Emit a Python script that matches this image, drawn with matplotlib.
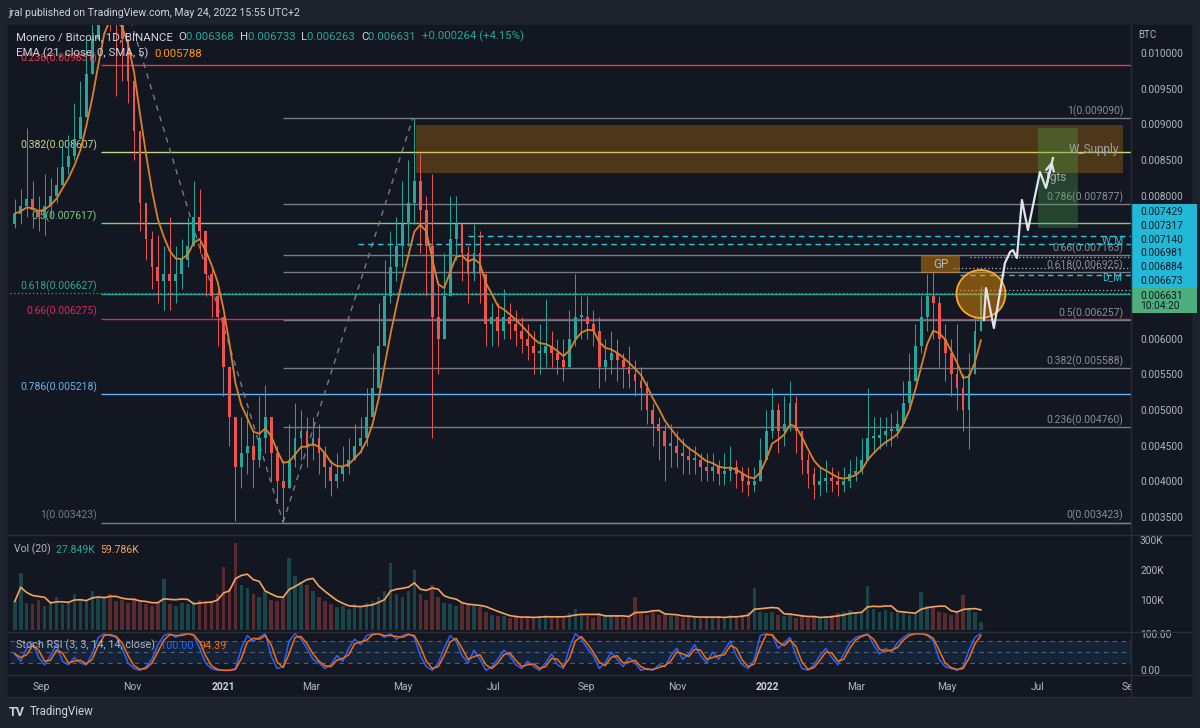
import matplotlib
matplotlib.use("Agg")
import matplotlib.pyplot as plt
import matplotlib.dates as mdates
from matplotlib.patches import Rectangle, Ellipse
import numpy as np
import pandas as pd

plt.rcParams["font.family"] = ["Roboto", "DejaVu Sans"]

W, H = 1200, 728
BG = "#131722"
FRAME = "#1e222d"
SEP = "#2a2e39"
TXT = "#b2b5be"
UP, DN = "#26a69a", "#ef5350"

close_k = [7.75, 7.85, 7.95, 7.80, 7.70, 7.85, 8.00, 8.15, 8.40, 8.55,
           8.80, 9.10, 9.70, 10.2, 10.8, 11.2, 10.9, 10.4, 10.2, 9.6,
           8.9, 7.9, 7.4, 7.0, 6.8, 6.9, 6.8, 6.9, 7.1, 7.3,
           7.7, 7.5, 6.9, 6.6, 6.3, 5.6, 4.9, 4.2, 4.4, 4.5,
           4.3, 4.6, 4.9, 4.4, 4.0, 3.9, 4.3, 4.6, 4.7, 4.5,
           4.6, 4.4, 4.2, 4.0, 4.1, 4.2, 4.3, 4.5, 4.6, 4.9,
           5.3, 5.9, 6.6, 7.0, 7.3, 7.6, 7.9, 8.2, 7.8, 7.3,
           6.3, 6.0, 6.6, 7.4, 7.6, 7.2, 6.9, 7.2, 6.9, 6.2,
           6.3, 6.1, 6.3, 6.2, 6.1, 6.0, 5.9, 5.8, 5.8, 5.9,
           5.8, 5.7, 5.6, 6.0, 6.3, 6.3, 6.2, 6.1, 5.6, 5.7,
           5.8, 5.7, 5.6, 5.5, 5.4, 5.3, 5.0, 4.8, 4.7, 4.5,
           4.5, 4.4, 4.35, 4.3, 4.3, 4.2, 4.15, 4.2, 4.1, 4.15,
           4.2, 4.1, 4.0, 3.95, 4.0, 4.3, 4.7, 5.0, 4.7, 4.8,
           5.1, 4.7, 4.3, 4.1, 3.95, 4.0, 4.05, 4.0, 3.95, 4.0,
           4.1, 4.15, 4.3, 4.6, 4.6, 4.65, 4.7, 4.7, 4.8, 5.1,
           5.4, 5.9, 6.3, 6.6, 6.5, 6.0, 5.8, 5.5, 5.3, 5.0,
           5.5, 6.1, 6.631]
high_k = [7.95, 8.10, 8.95, 8.20, 8.00, 8.30, 8.25, 8.40, 8.70, 8.85,
          9.30, 9.60, 10.2, 10.8, 11.4, 11.8, 11.6, 11.0, 10.6, 10.2,
          9.5, 8.5, 7.9, 7.5, 7.45, 7.3, 7.7, 7.3, 7.4, 7.7,
          8.2, 8.1, 7.5, 7.0, 6.7, 6.3, 5.6, 4.9, 4.9, 5.0,
          4.7, 5.2, 5.35, 4.9, 4.5, 4.3, 4.8, 5.1, 5.0, 4.9,
          4.9, 4.8, 4.5, 4.3, 4.4, 4.5, 4.6, 4.8, 4.9, 5.3,
          5.8, 6.5, 7.1, 7.5, 7.7, 8.2, 8.5, 9.09, 8.6, 8.0,
          8.3, 6.8, 7.2, 8.0, 8.0, 7.6, 7.3, 7.6, 7.5, 6.9,
          6.5, 6.5, 6.7, 6.5, 6.4, 6.3, 6.2, 6.1, 6.2, 6.55,
          6.1, 6.0, 6.0, 6.4, 6.9, 6.6, 6.6, 6.4, 6.3, 6.0,
          6.1, 6.0, 5.8, 5.9, 5.7, 5.6, 5.4, 5.1, 4.9, 4.8,
          4.8, 4.7, 4.6, 4.5, 4.5, 4.4, 4.4, 4.4, 4.3, 4.4,
          4.5, 4.3, 4.2, 4.2, 4.2, 4.6, 5.0, 5.3, 5.1, 5.2,
          5.4, 5.2, 4.7, 4.4, 4.2, 4.2, 4.3, 4.2, 4.15, 4.2,
          4.3, 4.35, 4.6, 5.3, 4.9, 4.9, 4.9, 4.95, 5.0, 5.4,
          5.8, 6.2, 6.6, 6.9, 6.93, 6.6, 6.2, 6.0, 6.2, 5.5,
          5.8, 6.3, 6.733]
low_k = [7.55, 7.60, 7.70, 7.55, 7.50, 7.45, 7.70, 7.90, 8.15, 8.30,
         8.50, 8.80, 9.20, 9.70, 10.2, 10.6, 10.3, 9.4, 9.6, 9.3,
         8.5, 7.5, 7.1, 6.7, 6.5, 6.4, 6.4, 6.5, 6.7, 7.0,
         7.3, 7.2, 6.6, 6.3, 5.9, 5.2, 4.5, 3.45, 3.9, 4.1,
         3.9, 4.2, 4.4, 4.0, 3.7, 3.45, 3.9, 4.2, 4.3, 4.2,
         4.3, 4.1, 3.9, 3.8, 3.9, 4.0, 4.1, 4.3, 4.4, 4.5,
         4.9, 5.4, 6.0, 6.5, 6.8, 7.0, 7.3, 7.6, 7.2, 6.6,
         4.6, 5.5, 6.0, 6.8, 7.1, 6.8, 6.5, 6.8, 6.5, 5.9,
         5.9, 5.9, 6.0, 6.0, 5.9, 5.8, 5.7, 5.5, 5.5, 5.6,
         5.6, 5.5, 5.4, 5.7, 5.9, 6.0, 6.0, 5.9, 5.3, 5.4,
         5.5, 5.4, 5.3, 5.3, 5.2, 5.0, 4.8, 4.5, 4.3, 4.0,
         4.2, 4.2, 4.1, 4.1, 4.1, 4.0, 4.0, 4.0, 3.95, 3.95,
         4.0, 3.9, 3.85, 3.8, 3.85, 4.0, 4.3, 4.6, 4.4, 4.5,
         4.7, 4.4, 4.1, 3.9, 3.75, 3.8, 3.85, 3.85, 3.8, 3.85,
         3.9, 4.0, 4.1, 4.3, 4.4, 4.45, 4.5, 4.5, 4.6, 4.8,
         5.0, 5.4, 5.8, 6.1, 6.0, 5.6, 5.4, 5.2, 5.0, 4.7,
         4.45, 5.5, 6.263]
first_open_k = 7.60

# volume, thousands
vol_k = [95, 190, 90, 85, 100, 80, 95, 110, 85, 90,
         120, 100, 95, 130, 105, 110, 120, 95, 100, 90,
         105, 95, 85, 80, 90, 170, 85, 80, 90, 85,
         95, 100, 90, 95, 120, 210, 140, 290, 150, 140,
         120, 110, 130, 100, 95, 110, 240, 180, 160, 150,
         130, 110, 95, 85, 75, 80, 70, 85, 80, 90,
         95, 110, 130, 225, 120, 110, 130, 200, 120, 100,
         150, 110, 90, 85, 80, 90, 85, 80, 75, 60,
         50, 45, 45, 40, 45, 40, 45, 40, 45, 50,
         40, 45, 40, 55, 70, 50, 45, 40, 55, 45,
         50, 45, 40, 45, 110, 55, 50, 60, 50, 55,
         45, 45, 40, 45, 45, 40, 45, 40, 45, 40,
         50, 45, 50, 60, 140, 60, 55, 60, 50, 45,
         55, 40, 45, 40, 45, 40, 45, 50, 55, 60,
         65, 55, 60, 145, 70, 60, 65, 60, 55, 60,
         50, 55, 127, 80, 75, 60, 55, 50, 60, 117,
         70, 60, 28]

# Stoch RSI %K
stoch_k = [45, 25, 60, 75, 35, 15, 40, 70, 25, 15, 35, 20, 15, 45, 90,
           100, 95, 90, 60, 20, 5, 0,
           10, 30, 70, 95, 100, 90, 100, 100, 95, 60, 20, 5,
           0, 0, 0, 5, 60,
           95, 80, 90, 100,
           40, 5, 10,
           80, 100, 85, 60,
           30, 20, 5, 15, 40, 25, 60,
           85, 70, 95, 100, 100, 90, 100, 85, 95, 100, 90,
           40, 10, 0, 20, 60,
           95, 80, 40, 20, 55, 30,
           0, 10, 30, 55, 40, 15, 5, 25,
           10, 0, 20, 45, 15, 5, 60,
           100, 85, 60, 40,
           5, 20, 50, 30, 10, 35, 20,
           0, 5, 0, 15, 10, 40,
           60, 30, 45, 70, 40, 20, 50, 30,
           55, 80, 40, 15, 5, 30,
           95, 100, 95, 60, 75, 90, 40,
           5, 0, 15, 40, 60, 35,
           15, 45, 75, 90, 95,
           100, 70, 45, 60, 50, 75, 90,
           100, 100, 100, 95, 80,
           30, 10, 5, 0, 10,
           55, 90, 100]

# fib retracements (ratio, price)
left_ratios = [0.236, 0.382, 0.5, 0.618, 0.66, 0.786, 1]
left_prices = [0.009831, 0.008607, 0.007617, 0.006627, 0.006275, 0.005218, 0.003423]
left_colors = ["#f23645", "#c5d68a", "#81c784", "#26a69a", "#e91e63", "#64b5f6", "#787b86"]
left_start = "2020-10-11"
left_top = 0.011811
right_ratios = [0, 0.236, 0.382, 0.5, 0.618, 0.66, 0.786, 1]
right_prices = [0.003423, 0.004760, 0.005588, 0.006257, 0.006925, 0.007163, 0.007877, 0.009090]
right_start = "2021-02-10"
right_end = "2021-05-08"

# key levels on the right
cyan_levels = [0.007429, 0.007317, 0.006884]
cyan_starts = ["2021-06-14", "2021-04-01", "2022-05-10"]
dot_levels = [0.007140, 0.006981, 0.006673]
dot_starts = ["2022-05-17", "2022-05-06", "2022-05-10"]
last_price = 0.006631

# projection path: days after 2022-05-24, price
proj_days = [2.0, 3.4, 8.7, 16.1, 19.5, 21.5, 24.1, 27.5, 31.5, 39.6, 43.6, 48.3]
proj_price = [0.006259, 0.006707, 0.006147, 0.007057, 0.007211, 0.007239,
              0.007127, 0.007940, 0.007520, 0.008332, 0.008108, 0.008528]

dates = pd.date_range(end="2022-05-24", periods=len(close_k), freq="4D")
t = mdates.date2num(dates)
close = np.array(close_k) / 1000
open_ = np.r_[first_open_k / 1000, close[:-1]]
high = np.maximum(np.array(high_k) / 1000, np.maximum(open_, close))
low = np.minimum(np.array(low_k) / 1000, np.minimum(open_, close))
up = close >= open_
ccol = np.where(up, UP, DN)
ema = pd.Series(close).ewm(span=21 / 4, adjust=False).mean()
vol = np.array(vol_k) * 1000.0
vol_sma = pd.Series(vol).rolling(5, min_periods=1).mean()
k = pd.Series(stoch_k, dtype=float)
d = k.rolling(2, min_periods=1).mean()

d0 = mdates.date2num(pd.Timestamp("2021-01-01"))
ppd = 1.491
xl = (d0 + (10 - 223.5) / ppd, d0 + (1131 - 223.5) / ppd)


def dn(s):
    return mdates.date2num(pd.Timestamp(s))


def box(x0, y0, x1, y1):
    return [x0 / W, 1 - y1 / H, (x1 - x0) / W, (y1 - y0) / H]


fig = plt.figure(figsize=(W / 100, H / 100), dpi=100, facecolor=FRAME)
fig.patches.append(Rectangle((8 / W, 1 - 697 / H), 1183 / W, 672 / H,
                             transform=fig.transFigure, color=BG, zorder=-10))

ax = fig.add_axes(box(10, 25, 1131, 535))
axv = fig.add_axes(box(10, 535, 1131, 632))
axs = fig.add_axes(box(10, 632, 1131, 675))
axt = fig.add_axes(box(10, 675, 1131, 697))
for a in (ax, axv, axs, axt):
    a.set_facecolor("none")
    a.set_xlim(*xl)
    for sp in a.spines.values():
        sp.set_visible(False)
    a.tick_params(axis="x", bottom=False, labelbottom=False)
    a.yaxis.tick_right()
    a.tick_params(axis="y", length=0, pad=6.5, labelsize=7.3, labelcolor=TXT)

# ---- price pane
ax.set_ylim(0.003248, 0.010391)
ticks = [0.0035, 0.004, 0.0045, 0.005, 0.0055, 0.006, 0.008, 0.0085, 0.009, 0.0095, 0.01]
ax.set_yticks(ticks)
ax.set_yticklabels([f"{v:.6f}" for v in ticks])

for r, p, c in zip(left_ratios, left_prices, left_colors):
    ax.hlines(p, dn(left_start), xl[1], color=c, lw=1, zorder=1)
    ax.annotate(f"{r:g}({p:.6f})", (dn(left_start), p), xytext=(-3, 1),
                textcoords="offset points", ha="right", va="bottom",
                color=c, fontsize=7.5, zorder=2)
for r, p in zip(right_ratios, right_prices):
    ax.hlines(p, dn(right_start), xl[1], color="#787b86", lw=1, zorder=1)
    ax.annotate(f"{r:g}({p:.6f})", (0.993, p), xycoords=ax.get_yaxis_transform(),
                xytext=(0, 1), textcoords="offset points", ha="right", va="bottom",
                color="#8a8d96", fontsize=7.5, zorder=2)
ax.plot([dn(left_start), dn(right_start)], [left_top, left_prices[-1]],
        color="#787b86", ls=(0, (4, 4)), lw=1, zorder=1)
ax.plot([dn(right_start), dn(right_end)], [right_prices[0], right_prices[-1]],
        color="#787b86", ls=(0, (4, 4)), lw=1, zorder=1)

for p, s in zip(cyan_levels, cyan_starts):
    ax.hlines(p, dn(s), xl[1], color="#26c6da", lw=1, ls=(0, (4, 3)), zorder=2)
for p, s in zip(dot_levels, dot_starts):
    ax.hlines(p, dn(s), xl[1], color="#b2b5be", lw=0.9, ls=(0, (1, 2)), zorder=2)
ax.axhline(last_price, color=UP, lw=0.9, ls=(0, (1, 2)), zorder=2)

# zones
ax.add_patch(Rectangle((dn("2021-05-10"), 0.008318), dn("2022-08-27") - dn("2021-05-10"),
                       0.008990 - 0.008318, color="#ff9800", alpha=0.25, lw=0, zorder=2))
ax.add_patch(Rectangle((dn("2022-07-01"), 0.007548), dn("2022-07-28") - dn("2022-07-01"),
                       0.008948 - 0.007548, color="#4caf50", alpha=0.3, lw=0, zorder=2))
ax.add_patch(Rectangle((dn("2022-04-14"), 0.006917), dn("2022-05-10") - dn("2022-04-14"),
                       0.007155 - 0.006917, color="#ff9800", alpha=0.4, lw=0, zorder=2))
ax.text(dn("2022-04-27"), 0.007036, "GP", color=TXT, fontsize=8.5, ha="center",
        va="center", zorder=6)
ax.text(0.989, 0.008650, "W_Supply", transform=ax.get_yaxis_transform(), color="#a0a3ab",
        fontsize=8.5, ha="right", va="center", zorder=6)
ax.text(dn("2022-07-05"), 0.008250, "Tgts", color="#a0a3ab", fontsize=8.5,
        ha="left", va="center", zorder=6)

# candles
ax.vlines(t, low, high, colors=ccol, lw=0.7, zorder=3)
ax.bar(t, np.maximum(np.abs(close - open_), 0.00003), bottom=np.minimum(open_, close),
       width=1.9, color=ccol, lw=0, zorder=3)
ax.plot(t, ema, color="#d9822b", lw=1.3, zorder=4)

ax.add_patch(Ellipse((dn("2022-05-24"), 0.006623), 49 / ppd, 48 / 71400,
                     facecolor="#ff9800", alpha=0.45, edgecolor="none", zorder=5))
ax.add_patch(Ellipse((dn("2022-05-24"), 0.006623), 49 / ppd, 48 / 71400,
                     facecolor="none", edgecolor="#ffa726", lw=1.3, zorder=5))
px = dn("2022-05-24") + np.array(proj_days)
ax.plot(px, proj_price, color="#e0e3eb", lw=1.6, zorder=6)
ax.annotate("", xy=(px[-1], proj_price[-1]), xytext=(px[-2], proj_price[-2]),
            arrowprops=dict(arrowstyle="->", color="#e0e3eb", lw=1.6,
                            mutation_scale=14), zorder=6)

# ---- volume pane
axv.set_ylim(-6667, 316667)
axv.set_yticks([100e3, 200e3, 300e3])
axv.set_yticklabels(["100K", "200K", "300K"])
axv.bar(t, vol, width=2.4, color=ccol, alpha=0.32, lw=0)
axv.plot(t, vol_sma, color="#f7a35c", lw=1.2)

# ---- stoch rsi pane
axs.set_ylim(-12.8, 104.6)
axs.set_yticks([0, 100])
axs.set_yticklabels(["0.00", "100.00"])
axs.axhspan(20, 80, color="#2196f3", alpha=0.1, lw=0)
for lv in (80, 50, 20):
    axs.axhline(lv, color="#787b86", lw=0.8, ls=(0, (4, 4)), alpha=0.7)
axs.plot(t, k, color="#2962ff", lw=1.1)
axs.plot(t, d, color="#ff6d00", lw=1.1)

# ---- time axis
axt.set_ylim(0, 1)
axt.set_yticks([])
tick_dates = ["2020-09-01", "2020-11-01", "2021-01-01", "2021-03-01", "2021-05-01",
              "2021-07-01", "2021-09-01", "2021-11-01", "2022-01-01", "2022-03-01",
              "2022-05-01", "2022-07-01", "2022-09-01"]
tick_names = ["Sep", "Nov", "2021", "Mar", "May", "Jul", "Sep", "Nov", "2022",
              "Mar", "May", "Jul", "Sep"]
for s, n in zip(tick_dates, tick_names):
    yr = n.isdigit()
    axt.text(dn(s), 0.45, n, ha="center", va="center", fontsize=7.4,
             color="#d1d4dc" if yr else TXT, fontweight="bold" if yr else "normal",
             clip_on=True)

# ---- overlay in pixel coordinates
ov = fig.add_axes([0, 0, 1, 1])
ov.set_xlim(0, W)
ov.set_ylim(H, 0)
ov.axis("off")
ov.patch.set_visible(False)

for yy in (535, 632, 675, 697):
    ov.plot([8, 1191], [yy, yy], color=SEP, lw=1)
ov.plot([1131, 1131], [25, 697], color=SEP, lw=1)


def chain(x, y, parts, size=7.2):
    prev = ov.text(x, y, parts[0][0], color=parts[0][1], fontsize=size,
                   va="center", ha="left")
    for s, c in parts[1:]:
        prev = ov.annotate(s, xy=(1, 0), xycoords=prev, color=c, fontsize=size,
                           va="bottom", ha="left")
    return prev


G = "#26a69a"
WT = "#d1d4dc"
ov.text(8, 13, "jral published on TradingView.com, May 24, 2022 15:55 UTC+2",
        color=WT, fontsize=7.6, va="center")
chain(16, 37, [("Monero / Bitcoin, 1D, BINANCE  ", WT), ("O", WT), ("0.006368  ", G),
               ("H", WT), ("0.006733  ", G), ("L", WT), ("0.006263  ", G),
               ("C", WT), ("0.006631  ", G), ("+0.000264 (+4.15%)", G)], 8.2)
chain(16, 53, [("EMA (21, close, 0, SMA, 5)  ", WT), ("0.005788", "#ff9800")], 8.2)
chain(14, 549, [("Vol (20)  ", TXT), ("27.849K  ", G), ("59.786K", "#f7a35c")], 7.6)
chain(16, 645, [("Stoch RSI (3, 3, 14, 14, close)  ", TXT), ("100.00  ", "#2962ff"),
                ("94.39", "#ff6d00")], 7.8)
ov.text(1138, 35, "BTC", color=TXT, fontsize=7, va="center")

# price labels on the scale
stack = ["0.007429", "0.007317", "0.007140", "0.006981", "0.006884", "0.006673"]
ov.add_patch(Rectangle((1132, 204), 65, 84, color="#22b8d8", lw=0))
for i, s in enumerate(stack):
    ov.text(1140, 212 + i * 13.8, s, color="#131722", fontsize=7.3, va="center")
ov.add_patch(Rectangle((1132, 288), 65, 25, color="#4caf7d", lw=0))
ov.text(1140, 296, f"{last_price:.6f}", color="#131722", fontsize=7.3, va="center")
ov.text(1140, 306, "10:04:20", color="#131722", fontsize=7.3, va="center")
ov.text(1102, 240, "W_M", color="#26c6da", fontsize=7.2, va="center")
ov.text(1102, 277, "D_M", color="#26c6da", fontsize=7.2, va="center")

ov.text(9, 712, "TV", color=WT, fontsize=9, fontweight="bold", va="center")
ov.text(30, 712, "TradingView", color=WT, fontsize=8.3, va="center")

fig.savefig("out.png", dpi=100, facecolor=FRAME)
